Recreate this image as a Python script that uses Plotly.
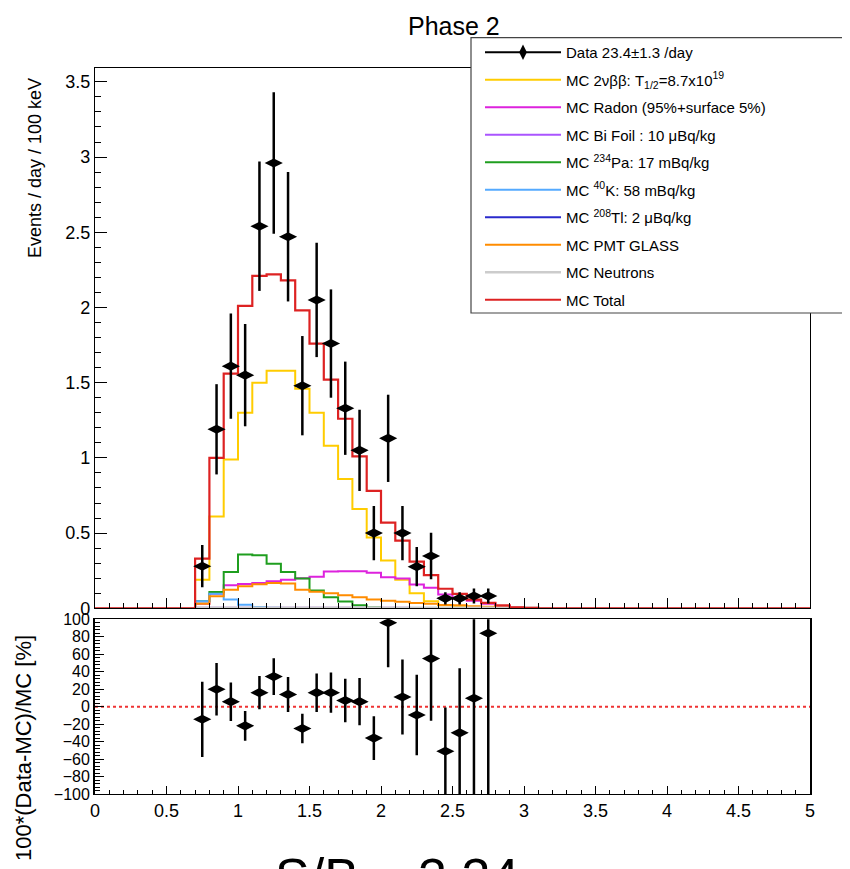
import numpy as np
import plotly.graph_objects as go

# ---------------- data ----------------
bin_width = 0.1
n_bins = 50
first_bin = 7  # MC arrays start at bin 0.7-0.8

mc_total = [0.33, 1.00, 1.56, 2.01, 2.21, 2.22, 2.18, 1.98, 1.76, 1.52, 1.26, 1.01,
            0.78, 0.57, 0.45, 0.31, 0.22, 0.13, 0.096, 0.058, 0.036, 0.02, 0.007, 0.003]
mc_2nbb = [0.19, 0.61, 0.99, 1.30, 1.50, 1.58, 1.58, 1.46, 1.30, 1.08, 0.86, 0.66,
           0.47, 0.318, 0.19, 0.10, 0.047, 0.02, 0.01, 0.005, 0.002, 0.0, 0.0, 0.0]
mc_radon = [0.03, 0.096, 0.153, 0.162, 0.169, 0.18, 0.19, 0.20, 0.21, 0.245, 0.247, 0.247,
            0.236, 0.207, 0.198, 0.158, 0.136, 0.091, 0.069, 0.051, 0.03, 0.015, 0.005, 0.0]
mc_bifoil = [0.003, 0.004, 0.004, 0.004, 0.004, 0.004, 0.004, 0.004, 0.004, 0.004, 0.004, 0.003,
             0.003, 0.003, 0.003, 0.002, 0.002, 0.002, 0.001, 0.001, 0.0, 0.0, 0.0, 0.0]
mc_pa234 = [0.047, 0.109, 0.242, 0.358, 0.353, 0.296, 0.242, 0.198, 0.118, 0.073, 0.045, 0.02,
            0.005, 0.0, 0.0, 0.0, 0.0, 0.0, 0.0, 0.0, 0.0, 0.0, 0.0, 0.0]
mc_k40 = [0.047, 0.096, 0.058, 0.024, 0.008, 0.003, 0.0, 0.0, 0.0, 0.0, 0.0, 0.0,
          0.0, 0.0, 0.0, 0.0, 0.0, 0.0, 0.0, 0.0, 0.0, 0.0, 0.0, 0.0]
mc_tl208 = [0.001, 0.001, 0.001, 0.001, 0.001, 0.001, 0.001, 0.001, 0.001, 0.001, 0.001, 0.001,
            0.001, 0.001, 0.001, 0.001, 0.001, 0.001, 0.001, 0.001, 0.0, 0.0, 0.0, 0.0]
mc_pmt = [0.03, 0.08, 0.124, 0.147, 0.16, 0.169, 0.165, 0.124, 0.11, 0.10, 0.087, 0.073,
          0.058, 0.051, 0.044, 0.036, 0.031, 0.022, 0.02, 0.013, 0.01, 0.007, 0.003, 0.0]
mc_neutrons = [0.003] * 24

data_x = [0.75, 0.85, 0.95, 1.05, 1.15, 1.25, 1.35, 1.45, 1.55, 1.65, 1.75, 1.85,
          1.95, 2.05, 2.15, 2.25, 2.35, 2.45, 2.55, 2.65, 2.75]
data_y = [0.28, 1.19, 1.61, 1.55, 2.54, 2.96, 2.47, 1.48, 2.05, 1.76, 1.33, 1.05,
          0.50, 1.13, 0.50, 0.277, 0.348, 0.066, 0.066, 0.082, 0.082]
data_err = [0.14, 0.30, 0.35, 0.34, 0.43, 0.47, 0.43, 0.33, 0.38, 0.36, 0.31, 0.27,
            0.18, 0.29, 0.18, 0.13, 0.155, 0.04, 0.04, 0.05, 0.05]

ratio = [-14.5, 20, 5.7, -22, 16, 34.4, 14, -25, 16, 16, 7, 5.7,
         -36, 96, 11, -9.6, 55, -51, -30, 9.6, 84]
ratio_err = [43, 30, 22, 17, 19, 21, 20, 17, 22, 23, 25, 27,
             25, 51, 43, 46, 71, 50, 74, 150, 200]

x_ticks_bottom = [0, 0.5, 1, 1.5, 2, 2.5, 3, 3.5, 4, 4.5, 5]

# ---------------- helpers ----------------
edges = np.round(np.arange(n_bins + 1) * bin_width, 3)


def full_hist(vals):
    arr = np.zeros(n_bins)
    arr[first_bin:first_bin + len(vals)] = vals
    return np.append(arr, arr[-1])


W, H = 850.0, 869.0
OFF = 8.0  # page body margin


def px(xpix):
    return (xpix - OFF) / W


def py(ypix):
    return 1 - (ypix - OFF) / H


FONT = "Liberation Sans, Arial, Helvetica, sans-serif"

components = [
    ("MC 2νββ: T<sub>1/2</sub>=8.7x10<sup>19</sup>", mc_2nbb, "#ffcc00", 2),
    ("MC Radon (95%+surface 5%)", mc_radon, "#dd22dd", 2),
    ("MC Bi Foil : 10 μBq/kg", mc_bifoil, "#aa55ff", 2),
    ("MC <sup>234</sup>Pa: 17 mBq/kg", mc_pa234, "#1f9e1f", 2),
    ("MC <sup>40</sup>K: 58 mBq/kg", mc_k40, "#55aaff", 2),
    ("MC <sup>208</sup>Tl: 2 μBq/kg", mc_tl208, "#2a2acc", 2),
    ("MC PMT GLASS", mc_pmt, "#ff8c00", 2),
    ("MC Neutrons", mc_neutrons, "#cccccc", 2.5),
]

fig = go.Figure()

# legend proxy for data (line + marker as in ROOT legend)
fig.add_trace(go.Scatter(
    x=[None], y=[None], mode="lines+markers", name="Data 23.4±1.3 /day",
    line=dict(color="black", width=2),
    marker=dict(symbol="diamond-tall", size=11, color="black"),
    legendgroup="g0", xaxis="x", yaxis="y"))

for i, (name, vals, color, w) in enumerate(components):
    fig.add_trace(go.Scatter(
        x=edges, y=full_hist(vals), mode="lines", line_shape="hv",
        line=dict(color=color, width=w), name=name,
        legendgroup=f"g{i+1}", xaxis="x", yaxis="y"))

fig.add_trace(go.Scatter(
    x=edges, y=full_hist(mc_total), mode="lines", line_shape="hv",
    line=dict(color="#dd2222", width=2.2), name="MC Total",
    legendgroup="g9", xaxis="x", yaxis="y"))

# data points
fig.add_trace(go.Scatter(
    x=data_x, y=data_y, mode="markers", showlegend=False,
    marker=dict(symbol="diamond-wide", size=13, color="black"),
    error_y=dict(type="data", array=data_err, color="black", thickness=2.5, width=0),
    xaxis="x", yaxis="y"))

# ratio points
fig.add_trace(go.Scatter(
    x=data_x, y=ratio, mode="markers", showlegend=False,
    marker=dict(symbol="diamond-wide", size=13, color="black"),
    error_y=dict(type="data", array=ratio_err, color="black", thickness=2.5, width=0),
    cliponaxis=True, xaxis="x2", yaxis="y2"))

axis_common = dict(showline=True, mirror=True, linecolor="black", linewidth=1.2,
                   showgrid=False, zeroline=False, automargin=False,
                   tickfont=dict(family=FONT, size=18, color="black"))

fig.update_layout(
    width=W, height=H,
    margin=dict(l=0, r=0, t=0, b=0, autoexpand=False),
    paper_bgcolor="white", plot_bgcolor="white",
    font=dict(family=FONT, color="black"),
    xaxis=dict(domain=[px(95), px(810)], range=[0, 5], anchor="y", showticklabels=False,
               ticks="inside", dtick=0.5, ticklen=10, tickcolor="black",
               minor=dict(ticks="inside", dtick=0.1, ticklen=5, tickcolor="black"),
               **axis_common),
    yaxis=dict(domain=[py(608.3), py(68.3)], range=[0, 3.59], anchor="x",
               ticks="inside", dtick=0.5, ticklen=12, tickcolor="black",
               minor=dict(ticks="inside", dtick=0.1, ticklen=6, tickcolor="black"),
               **axis_common),
    xaxis2=dict(domain=[px(95), px(810)], range=[0, 5], anchor="y2",
                tickvals=x_ticks_bottom,
                ticks="inside", ticklen=8, tickcolor="black",
                minor=dict(ticks="inside", dtick=0.1, ticklen=4, tickcolor="black"),
                **axis_common),
    yaxis2=dict(domain=[py(794), py(619.3)], range=[-100, 100], anchor="x2",
                ticks="inside", dtick=20, ticklen=9, tickcolor="black",
                minor=dict(ticks="inside", dtick=4, ticklen=5, tickcolor="black"),
                **{**axis_common, "tickfont": dict(family=FONT, size=16, color="black"),
                   "linewidth": 1.8}),
    legend=dict(x=px(480), y=py(36), xanchor="left", yanchor="top",
                bgcolor="rgba(0,0,0,0)", borderwidth=0,
                font=dict(family=FONT, size=15, color="black"),
                traceorder="grouped", tracegroupgap=5, itemwidth=76),
    showlegend=True,
)

# legend frame (white box covering the plot frame)
fig.add_shape(type="rect", xref="paper", yref="paper",
              x0=px(471), x1=px(848), y0=py(313), y1=py(37.7),
              line=dict(color="#444444", width=1.2), fillcolor="white", layer="above")

# zero line in ratio panel
fig.add_shape(type="line", xref="x2", yref="y2", x0=0, x1=5, y0=0, y1=0,
              line=dict(color="#ee3333", width=2, dash="dot"), layer="below")

fig.add_annotation(text="Phase 2", x=px(454), y=py(26), xref="paper", yref="paper",
                   showarrow=False, font=dict(family=FONT, size=25, color="black"),
                   xanchor="center", yanchor="middle")
fig.add_annotation(text="Events / day / 100 keV", x=px(35), y=py(168),
                   xref="paper", yref="paper", showarrow=False, textangle=-90,
                   font=dict(family=FONT, size=18, color="black"),
                   xanchor="center", yanchor="middle")
fig.add_annotation(text="100*(Data-MC)/MC [%]", x=px(23), y=py(748),
                   xref="paper", yref="paper", showarrow=False, textangle=-90,
                   font=dict(family=FONT, size=22, color="black"),
                   xanchor="center", yanchor="middle")
fig.add_annotation(text="S/B = 3.34", x=px(397), y=py(846),
                   xref="paper", yref="paper", showarrow=False,
                   font=dict(family=FONT, size=52, color="black"),
                   xanchor="center", yanchor="top")

fig.write_html("out.html")
